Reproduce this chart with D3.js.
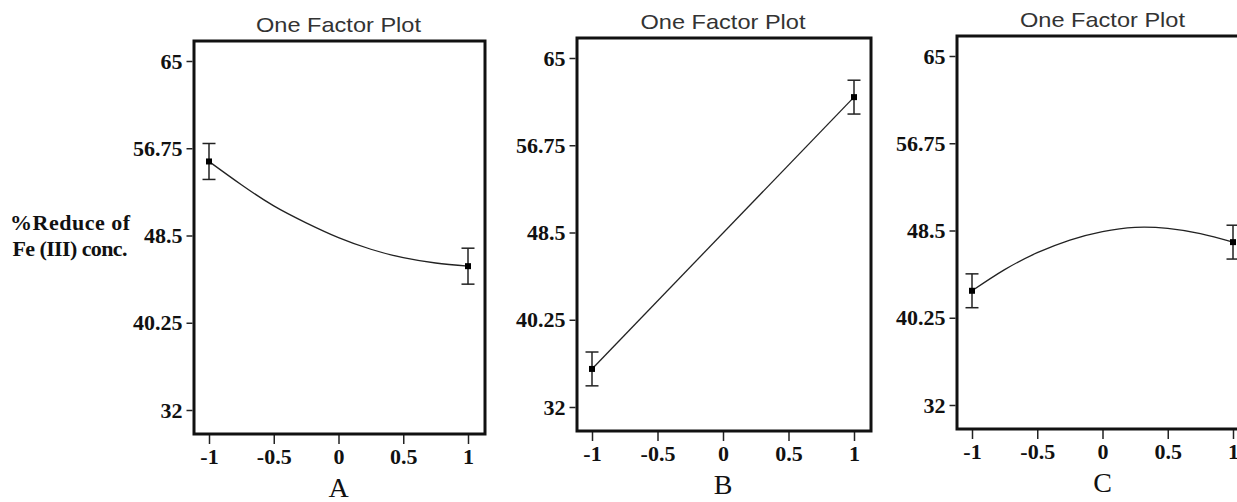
<!DOCTYPE html>
<html>
<head>
<meta charset="utf-8">
<script src="https://cdn.jsdelivr.net/npm/d3@7"></script>
<style>
  body { margin: 0; background: #fff; overflow: hidden; }
  .tick text { font-family: "Liberation Serif", "Times New Roman", serif; font-weight: bold; font-size: 22px; fill: #111; }
  .tick line { stroke: #222; stroke-width: 1.5; }
</style>
</head>
<body>
<script>
// values
var factors = ["A", "B", "C"];
var xTicks = [-1, -0.5, 0, 0.5, 1];
var xTickLabels = ["-1", "-0.5", "0", "0.5", "1"];
var yTicks = [65, 56.75, 48.5, 40.25, 32];

// fitted curve
var curveXA = [-1, -0.75, -0.5, -0.25, 0, 0.25, 0.5, 0.75, 1];
var curveA = [55.5, 53.3, 51.3, 49.7, 48.3, 47.2, 46.4, 45.9, 45.6];
var curveXB = [-1, 1];
var curveB = [35.6, 61.3];
var curveXC = [-1, -0.75, -0.5, -0.25, 0, 0.25, 0.5, 0.75, 1];
var curveC = [42.8, 44.8, 46.4, 47.6, 48.4, 48.8, 48.7, 48.2, 47.4];

// design points with error bars
var pointX = [-1, 1];
var meanA = [55.5, 45.6], errA = [1.7, 1.7];
var meanB = [35.6, 61.3], errB = [1.6, 1.6];
var meanC = [42.8, 47.4], errC = [1.6, 1.6];

var panels = [
  {name: factors[0], left: 194, top: 41, width: 291, cx: curveXA, cy: curveA, mean: meanA, err: errA},
  {name: factors[1], left: 577, top: 38, width: 294, cx: curveXB, cy: curveB, mean: meanB, err: errB},
  {name: factors[2], left: 957, top: 36, width: 293, cx: curveXC, cy: curveC, mean: meanC, err: errC}
];
var frameH = 393;

var svg = d3.select("body").append("svg")
  .attr("width", 1237)
  .attr("height", 502);

// y axis title (only on the first panel)
var ylab = svg.append("text")
  .attr("text-anchor", "middle")
  .style("font-family", "Liberation Serif, Times New Roman, serif")
  .style("font-weight", "bold")
  .style("font-size", "22px")
  .style("fill", "#111");
ylab.append("tspan").attr("x", 70).attr("y", 230).attr("textLength", 120).text("%Reduce of");
ylab.append("tspan").attr("x", 70).attr("y", 256).attr("textLength", 115).text("Fe (III) conc.");

panels.forEach(function(p) {
  var g = svg.append("g").attr("transform", "translate(" + p.left + "," + p.top + ")");

  var x = d3.scaleLinear().domain([-1, 1]).range([15, p.width - 17]);
  var y = d3.scaleLinear().domain([32, 65]).range([369, 20]);

  // title
  g.append("text")
    .attr("x", x(0))
    .attr("y", -9)
    .attr("text-anchor", "middle")
    .attr("textLength", 165)
    .attr("lengthAdjust", "spacingAndGlyphs")
    .style("font-family", "Liberation Sans, Arial, sans-serif")
    .style("font-size", "21px")
    .style("fill", "#333")
    .text("One Factor Plot");

  // axes
  g.append("g")
    .attr("transform", "translate(-1.5,0)")
    .call(d3.axisLeft(y).tickValues(yTicks).tickSize(6).tickPadding(4).tickFormat(function(d){ return d; }))
    .call(function(a){ a.select(".domain").remove(); });

  g.append("g")
    .attr("transform", "translate(0," + frameH + ")")
    .call(d3.axisBottom(x).tickValues(xTicks).tickSize(10).tickPadding(4)
      .tickFormat(function(d, i){ return xTickLabels[i]; }))
    .call(function(a){ a.select(".domain").remove(); });

  // frame
  g.append("rect")
    .attr("x", 0).attr("y", 0)
    .attr("width", p.width).attr("height", frameH)
    .attr("fill", "none")
    .attr("stroke", "#111")
    .attr("stroke-width", 3);

  // fitted line
  var line = d3.line()
    .x(function(d, i){ return x(p.cx[i]); })
    .y(function(d){ return y(d); })
    .curve(d3.curveNatural);
  g.append("path")
    .datum(p.cy)
    .attr("d", line)
    .attr("fill", "none")
    .attr("stroke", "#222")
    .attr("stroke-width", 1.3);

  // error bars
  var eb = g.selectAll(".eb").data(p.mean).enter().append("g").attr("class", "eb");
  eb.append("line")
    .attr("x1", function(d, i){ return x(pointX[i]); })
    .attr("x2", function(d, i){ return x(pointX[i]); })
    .attr("y1", function(d, i){ return y(d + p.err[i]); })
    .attr("y2", function(d, i){ return y(d - p.err[i]); })
    .attr("stroke", "#222").attr("stroke-width", 1.5);
  [1, -1].forEach(function(s) {
    eb.append("line")
      .attr("x1", function(d, i){ return x(pointX[i]) - 6.5; })
      .attr("x2", function(d, i){ return x(pointX[i]) + 6.5; })
      .attr("y1", function(d, i){ return y(d + s * p.err[i]); })
      .attr("y2", function(d, i){ return y(d + s * p.err[i]); })
      .attr("stroke", "#222").attr("stroke-width", 1.5);
  });
  eb.append("rect")
    .attr("x", function(d, i){ return x(pointX[i]) - 3; })
    .attr("y", function(d){ return y(d) - 3; })
    .attr("width", 6).attr("height", 6)
    .attr("fill", "#000");

  // factor letter
  g.append("text")
    .attr("x", x(0))
    .attr("y", frameH + 63)
    .attr("text-anchor", "middle")
    .style("font-family", "Liberation Serif, Times New Roman, serif")
    .style("font-size", "28px")
    .style("fill", "#111")
    .text(p.name);
});
</script>
</body>
</html>
